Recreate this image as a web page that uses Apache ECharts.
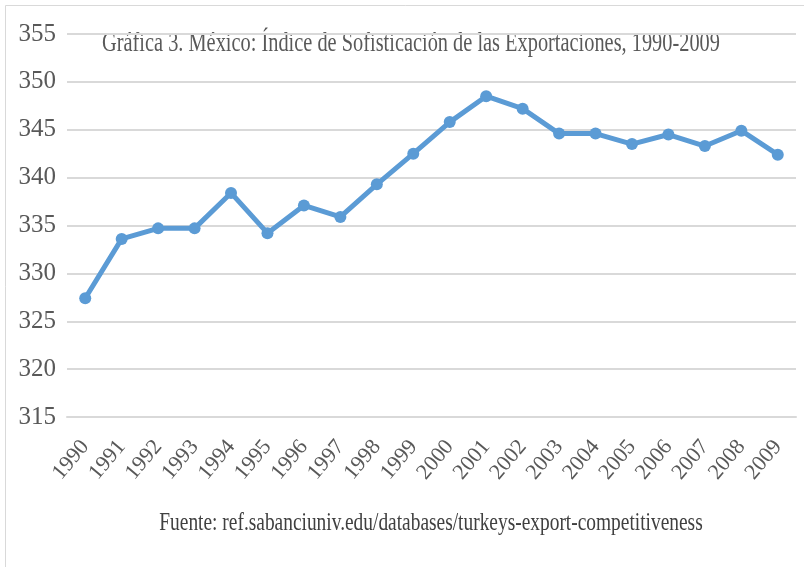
<!DOCTYPE html>
<html>
<head>
<meta charset="utf-8">
<script src="https://cdn.jsdelivr.net/npm/echarts@6/dist/echarts.min.js"></script>
<style>html,body{margin:0;padding:0;background:#fff;}#c{width:804px;height:567px;}</style>
</head>
<body>
<div id="c"></div>
<script>
const years = ['1990','1991','1992','1993','1994','1995','1996','1997','1998','1999','2000','2001','2002','2003','2004','2005','2006','2007','2008','2009'];
const values = [327.4,333.6,334.7,334.7,338.4,334.2,337.1,335.9,339.3,342.5,345.8,348.5,347.2,344.6,344.6,343.5,344.5,343.3,344.9,342.4];
const titleText = 'Gráfica 3. México: Índice de Sofisticación de las Exportaciones, 1990-2009';
const sourceText = 'Fuente: ref.sabanciuniv.edu/databases/turkeys-export-competitiveness';

const chart = echarts.init(document.getElementById('c'), null, {renderer:'canvas'});
const serif = '"Liberation Serif", "DejaVu Serif", serif';
chart.setOption({
  animation:false,
  backgroundColor:'#fff',
  grid:{left:67, right:8, top:34, bottom:150, containLabel:false},
  xAxis:{
    type:'category', data:years, boundaryGap:true,
    axisLine:{show:true, lineStyle:{color:'#d9d9d9', width:2}},
    axisTick:{show:false},
    axisLabel:{rotate:50, margin:26, color:'#595959', fontFamily:serif, fontSize:22, interval:0}
  },
  yAxis:{
    type:'value', min:315, max:355, interval:5,
    axisLine:{show:false}, axisTick:{show:false},
    splitLine:{lineStyle:{color:'#d9d9d9', width:2}},
    axisLabel:{color:'#595959', fontFamily:serif, fontSize:25, margin:11}
  },
  series:[{
    type:'line', data:values,
    lineStyle:{color:'#5b9bd5', width:5},
    itemStyle:{color:'#5b9bd5'},
    symbol:'circle', symbolSize:12, showSymbol:true
  }],
  graphic:[
    {type:'rect', shape:{x:5.5, y:5.5, width:820, height:580}, style:{fill:null, stroke:'#d9d9d9', lineWidth:1}, z:-1},
    {type:'text', x:411, y:43.5, scaleX:0.754, style:{text:titleText, textAlign:'center', textVerticalAlign:'middle', font:'27px ' + serif, fill:'#595959'}},
    {type:'text', x:431, y:523, scaleX:0.776, style:{text:sourceText, textAlign:'center', textVerticalAlign:'middle', font:'25px ' + serif, fill:'#404040'}}
  ]
});
</script>
</body>
</html>
